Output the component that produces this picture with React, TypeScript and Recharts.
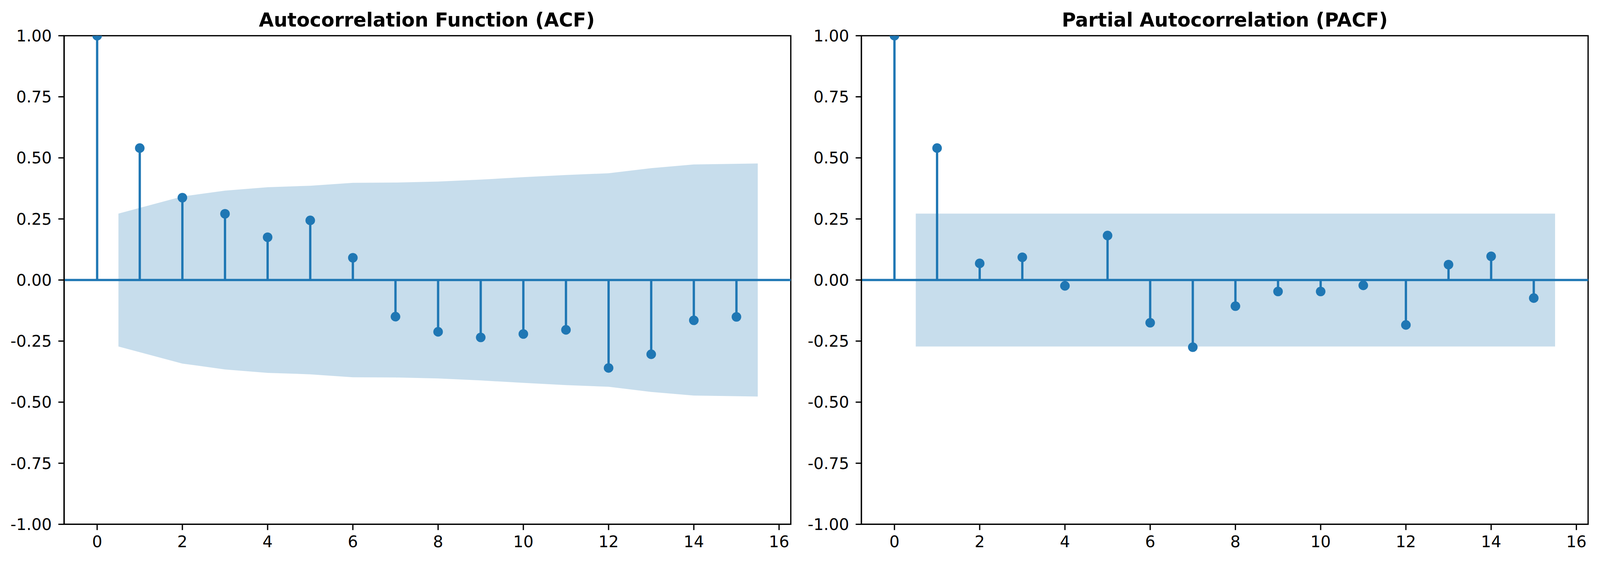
import React from 'react';
import {
  ComposedChart,
  Area,
  Scatter,
  ErrorBar,
  XAxis,
  YAxis,
  ReferenceLine,
  ReferenceArea,
} from 'recharts';

// lags shown on both panels
const lags = [0, 1, 2, 3, 4, 5, 6, 7, 8, 9, 10, 11, 12, 13, 14, 15];

// values
const acfValues = [1.0, 0.54, 0.337, 0.271, 0.175, 0.244, 0.091, -0.15, -0.212, -0.235, -0.221, -0.204, -0.36, -0.304, -0.165, -0.151];
const pacfValues = [1.0, 0.54, 0.068, 0.093, -0.024, 0.182, -0.175, -0.275, -0.107, -0.047, -0.047, -0.022, -0.184, 0.063, 0.097, -0.074];

// confidence band vertices (first/last pushed out by half a lag)
const bandLags = [0.5, 2, 3, 4, 5, 6, 7, 8, 9, 10, 11, 12, 13, 14, 15.5];
const acfBand = [0.272, 0.342, 0.366, 0.38, 0.386, 0.398, 0.399, 0.403, 0.411, 0.421, 0.43, 0.437, 0.458, 0.473, 0.477];
const pacfBand = [0.272, 0.272, 0.272, 0.272, 0.272, 0.272, 0.272, 0.272, 0.272, 0.272, 0.272, 0.272, 0.272, 0.272, 0.272];

const xTicks = [0, 2, 4, 6, 8, 10, 12, 14, 16];
const yTicks = [-1, -0.75, -0.5, -0.25, 0, 0.25, 0.5, 0.75, 1];
const xDomain: [number, number] = [-0.775, 16.275];

// the photographed page comes out slightly enlarged, so lay out at 4096 wide
const S = 4096 / 4168;
const px = (v: number) => v * S;

const C0 = '#1f77b4';
const FONT = '"DejaVu Sans", sans-serif';
const tickStyle = { fill: '#000', fontSize: px(41.7), fontFamily: FONT };
const spine = { stroke: '#000', strokeWidth: px(3.3) };

interface PanelProps {
  values: number[];
  band: number[];
  left: number;
  yAxisWidth: number;
  marginRight: number;
}

function CorrPanel({ values, band, left, yAxisWidth, marginRight }: PanelProps) {
  const points = lags.map((lag, i) => ({
    lag,
    value: values[i],
    err: values[i] >= 0 ? [values[i], 0] : [0, -values[i]],
  }));
  const bandRows = bandLags.map((lag, i) => ({ lag, band: [-band[i], band[i]] }));

  return (
    <div style={{ position: 'absolute', left: px(left), top: 0 }}>
      <ComposedChart
        width={px(2084)}
        height={px(1466)}
        data={bandRows}
        margin={{ top: px(93), right: px(marginRight), bottom: 0, left: 0 }}
      >
        <XAxis
          dataKey="lag"
          type="number"
          domain={xDomain}
          allowDataOverflow
          ticks={xTicks}
          interval={0}
          height={px(101)}
          tickSize={px(15)}
          tickMargin={px(15)}
          tick={tickStyle}
          axisLine={spine}
          tickLine={spine}
        />
        <YAxis
          type="number"
          domain={[-1, 1]}
          allowDataOverflow
          ticks={yTicks}
          interval={0}
          width={px(yAxisWidth)}
          tickSize={px(15)}
          tickMargin={px(17)}
          tick={tickStyle}
          tickFormatter={(v: number) => v.toFixed(2)}
          axisLine={spine}
          tickLine={spine}
        />
        <Area
          type="linear"
          dataKey="band"
          fill={C0}
          fillOpacity={0.25}
          stroke="none"
          isAnimationActive={false}
          dot={false}
          activeDot={false}
        />
        <ReferenceLine y={0} stroke={C0} strokeWidth={px(6)} />
        <Scatter
          data={points}
          dataKey="value"
          isAnimationActive={false}
          shape={(p: any) => <circle cx={p.cx} cy={p.cy} r={px(12.5)} fill={C0} />}
        >
          <ErrorBar dataKey="err" direction="y" width={0} stroke={C0} strokeWidth={px(6)} isAnimationActive={false} />
        </Scatter>
        <ReferenceArea
          x1={xDomain[0]}
          x2={xDomain[1]}
          y1={-1}
          y2={1}
          fill="none"
          fillOpacity={0}
          stroke="#000"
          strokeWidth={px(3.3)}
        />
      </ComposedChart>
    </div>
  );
}

export default function App() {
  return (
    <div style={{ position: 'absolute', left: 0, top: 0, width: px(4168), height: px(1466), background: '#fff' }}>
      <CorrPanel values={acfValues} band={acfBand} left={0} yAxisWidth={167} marginRight={24} />
      <CorrPanel values={pacfValues} band={pacfBand} left={2084} yAxisWidth={160} marginRight={31} />
      <svg width={px(4168)} height={px(120)} style={{ position: 'absolute', left: 0, top: 0 }}>
        <text x={px(1112)} y={px(69)} textAnchor="middle" fontFamily={FONT} fontWeight="bold" fontSize={px(50)}>
          Autocorrelation Function (ACF)
        </text>
        <text x={px(3190.5)} y={px(69)} textAnchor="middle" fontFamily={FONT} fontWeight="bold" fontSize={px(50)}>
          Partial Autocorrelation (PACF)
        </text>
      </svg>
    </div>
  );
}
